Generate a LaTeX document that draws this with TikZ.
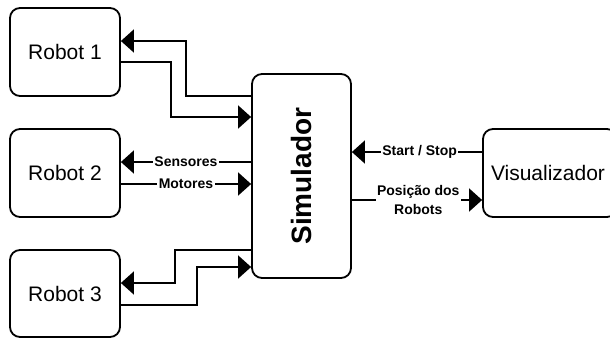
\documentclass[tikz,border=0pt]{standalone}
\usepackage{fontspec}
\setmainfont{Liberation Sans}
\usetikzlibrary{arrows.meta}
\begin{document}
\begin{tikzpicture}[x=1pt,y=-1pt,
  box/.style={draw,line width=1.8pt,rounded corners=10pt,inner sep=0pt,font=\fontsize{21}{24}\selectfont},
  conn/.style={line width=1.5pt},
  arr/.style={conn,-{Triangle[length=13pt,width=23pt]}},
  lbl/.style={fill=white,inner sep=1.5pt,font=\bfseries\fontsize{14}{19}\selectfont,align=center}]
\clip (0,0) rectangle (610,338);
\fill[white] (0,0) rectangle (610,338);
\node[box,minimum width=110pt,minimum height=88pt] (r1) at (65,52) {Robot 1};
\node[box,minimum width=110pt,minimum height=88pt] (r2) at (65,173) {Robot 2};
\node[box,minimum width=110pt,minimum height=87pt] (r3) at (65,293.5) {Robot 3};
\node[box,minimum width=99pt,minimum height=204pt] (sim) at (301.5,176) {};
\node[rotate=90,font=\bfseries\fontsize{28}{32}\selectfont] (simt) at (sim.center) {Simulador};
\node[box,minimum width=134pt,minimum height=88pt] (vis) at (550,173) {};
\node[font=\fontsize{21}{24}\selectfont] (vist) at (548,173) {Visualizador};
% Robot 1
\draw[arr] (sim.west |- 0,96) -- (186,96) -- (186,41) -- (r1.east |- 0,41);
\draw[arr] (r1.east |- 0,62) -- (171,62) -- (171,117) -- (sim.west |- 0,117);
% Robot 2
\draw[arr] (sim.west |- 0,162) -- node[lbl] (sens) {Sensores} (r2.east |- 0,162);
\draw[arr] (r2.east |- 0,184) -- node[lbl] (mot) {Motores} (sim.west |- 0,184);
% Robot 3
\draw[arr] (sim.west |- 0,250) -- (175,250) -- (175,283) -- (r3.east |- 0,283);
\draw[arr] (r3.east |- 0,305) -- (197,305) -- (197,267) -- (sim.west |- 0,267);
% Visualizador
\draw[arr] (vis.west |- 0,152) -- node[lbl,pos=0.48] (ss) {Start / Stop} (sim.east |- 0,152);
\draw[arr] (sim.east |- 0,200) -- node[lbl,pos=0.51] (pos) {Posição dos\\Robots} (vis.west |- 0,200);
\end{tikzpicture}
\end{document}
